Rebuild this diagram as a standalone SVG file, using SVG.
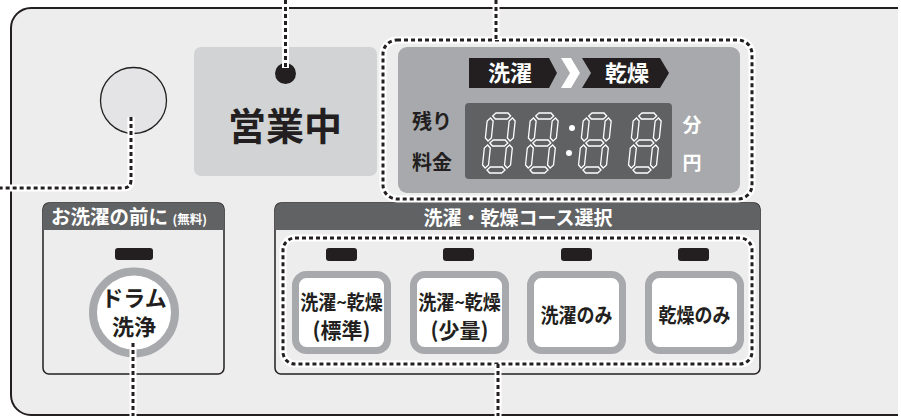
<svg xmlns="http://www.w3.org/2000/svg" xmlns:xlink="http://www.w3.org/1999/xlink" width="901" height="416" viewBox="0 0 901 416">
<style>
text{font-family:"Noto Sans CJK JP","Noto Sans",sans-serif;font-weight:bold}
.dk{fill:#231f20}
.wt{fill:#ffffff}
.seg{fill:none;stroke:#ffffff;stroke-width:1.3;stroke-linejoin:miter}
.halo{fill:none;stroke:#ffffff;stroke-width:7;stroke-linecap:butt}
.dot{fill:none;stroke:#231f20;stroke-width:3;stroke-dasharray:4 3}
.led{fill:#231f20}
.btnring{fill:#ffffff;stroke:#a7a9ac;stroke-width:7}
.box{fill:#ededed;stroke:#231f20;stroke-width:1.5}
.hdr{fill:#616264}
</style>
<defs>
<g id="digit">
<polygon class="seg" points="5,3 8,0 20,0 23,3 20,6 8,6"/>
<polygon class="seg" points="5,30 8,27 20,27 23,30 20,33 8,33"/>
<polygon class="seg" points="5,57 8,54 20,54 23,57 20,60 8,60"/>
<polygon class="seg" points="3,5 6,8 6,25 3,28 0,25 0,8"/>
<polygon class="seg" points="25,5 28,8 28,25 25,28 22,25 22,8"/>
<polygon class="seg" points="3,32 6,35 6,52 3,55 0,52 0,35"/>
<polygon class="seg" points="25,32 28,35 28,52 25,55 22,52 22,35"/>
</g>
</defs>

<g id="panel">
<path d="M898,8 H31 A20,20 0 0 0 11,28 V395 A20,20 0 0 0 31,415 H898" fill="#ededed" stroke="#231f20" stroke-width="2"/>
</g>

<g id="lamp">
<circle cx="133.5" cy="100.5" r="33" fill="#e4e4e6" stroke="#231f20" stroke-width="1.3"/>
</g>

<g id="status">
<rect x="194" y="47" width="183" height="129" rx="7" fill="#d1d3d4"/>
<circle cx="285.5" cy="73.5" r="10.5" fill="#231f20"/>
<text x="285" y="140" font-size="38" text-anchor="middle" class="dk">営業中</text>
</g>

<g id="display">
<rect x="398" y="47" width="342" height="146" rx="9" fill="#a7a9ac"/>
<polygon points="469,58 549,58 557,73 549,88 469,88" fill="#231f20"/>
<polygon points="561,58 571,58 580,73 571,88 561,88 570,73" fill="#ffffff"/>
<polygon points="582,58 660,58 669,73 660,88 582,88 591,73" fill="#231f20"/>
<text x="510" y="81" font-size="22" text-anchor="middle" class="wt">洗濯</text>
<text x="627" y="81" font-size="22" text-anchor="middle" class="wt">乾燥</text>
<text x="432" y="128.5" font-size="20" text-anchor="middle" class="dk">残り</text>
<text x="432" y="169.5" font-size="20" text-anchor="middle" class="dk">料金</text>
<rect x="465" y="103" width="207" height="76" rx="4" fill="#606163"/>
<use xlink:href="#digit" href="#digit" transform="translate(488,113) skewX(-6)"/>
<use xlink:href="#digit" href="#digit" transform="translate(531,113) skewX(-6)"/>
<use xlink:href="#digit" href="#digit" transform="translate(584,113) skewX(-6)"/>
<use xlink:href="#digit" href="#digit" transform="translate(634,113) skewX(-6)"/>
<circle cx="572" cy="128" r="3" fill="#ffffff"/>
<circle cx="569" cy="153" r="3" fill="#ffffff"/>
<text x="692" y="132" font-size="19" text-anchor="middle" class="wt">分</text>
<text x="692" y="170" font-size="19" text-anchor="middle" class="wt">円</text>
</g>

<g id="drum-box">
<rect class="box" x="43" y="203" width="181" height="171" rx="6"/>
<path class="hdr" d="M43,230 V209 A6,6 0 0 1 49,203 H218 A6,6 0 0 1 224,209 V230 Z"/>
<text x="51" y="224" font-size="19.5" class="wt">お洗濯の前に <tspan font-size="12.5">(無料)</tspan></text>
<rect class="led" x="115" y="248" width="38" height="12" rx="3"/>
<circle cx="134" cy="312.5" r="41" fill="#ffffff" stroke="#a7a9ac" stroke-width="8"/>
<text x="134" y="306" font-size="22" text-anchor="middle" class="dk">ドラム</text>
<text x="134" y="335" font-size="22" text-anchor="middle" class="dk">洗浄</text>
</g>

<g id="course-box">
<rect class="box" x="275" y="203" width="485" height="171" rx="6"/>
<path class="hdr" d="M275,230 V209 A6,6 0 0 1 281,203 H754 A6,6 0 0 1 760,209 V230 Z"/>
<text x="518" y="225" font-size="19" text-anchor="middle" class="wt">洗濯・乾燥コース選択</text>
<rect class="led" x="326" y="248" width="31" height="13" rx="3"/>
<rect class="led" x="443" y="248" width="31" height="13" rx="3"/>
<rect class="led" x="561" y="248" width="31" height="13" rx="3"/>
<rect class="led" x="678" y="248" width="31" height="13" rx="3"/>
</g>

<g id="btn-standard">
<rect class="btnring" x="295.5" y="274.5" width="92" height="76" rx="11"/>
<text transform="translate(341.5,309.5) scale(0.9,1)" font-size="20" text-anchor="middle" class="dk">洗濯~乾燥</text>
<text x="341.5" y="338" font-size="21" text-anchor="middle" class="dk">(標準)</text>
</g>
<g id="btn-small">
<rect class="btnring" x="413.5" y="274.5" width="92" height="76" rx="11"/>
<text transform="translate(459.5,309.5) scale(0.9,1)" font-size="20" text-anchor="middle" class="dk">洗濯~乾燥</text>
<text x="459.5" y="338" font-size="21" text-anchor="middle" class="dk">(少量)</text>
</g>
<g id="btn-wash">
<rect class="btnring" x="530.5" y="274.5" width="92" height="76" rx="11"/>
<text transform="translate(576.5,322.5) scale(0.9,1)" font-size="20" text-anchor="middle" class="dk">洗濯のみ</text>
</g>
<g id="btn-dry">
<rect class="btnring" x="648.5" y="274.5" width="92" height="76" rx="11"/>
<text transform="translate(694.5,322.5) scale(0.9,1)" font-size="20" text-anchor="middle" class="dk">乾燥のみ</text>
</g>

<g id="connectors">
<path class="halo" d="M131,117 V180 Q131,188 123,188 H0"/>
<path class="dot" d="M131,117 V180 Q131,188 123,188 H0"/>
<path class="halo" d="M285.5,0 V68"/>
<path class="dot" d="M285.5,0 V68"/>
<rect class="halo" x="383" y="40" width="369" height="159" rx="14"/>
<rect class="dot" x="383" y="40" width="369" height="159" rx="14"/>
<path class="halo" d="M496,0 V40"/>
<path class="dot" d="M496,0 V40"/>
<rect class="halo" x="283" y="238" width="469" height="126" rx="12"/>
<rect class="dot" x="283" y="238" width="469" height="126" rx="12"/>
<path class="halo" d="M498,364 V416"/>
<path class="dot" d="M498,364 V416"/>
<path class="halo" d="M133,343 V416"/>
<path class="dot" d="M133,343 V416"/>
</g>
</svg>
